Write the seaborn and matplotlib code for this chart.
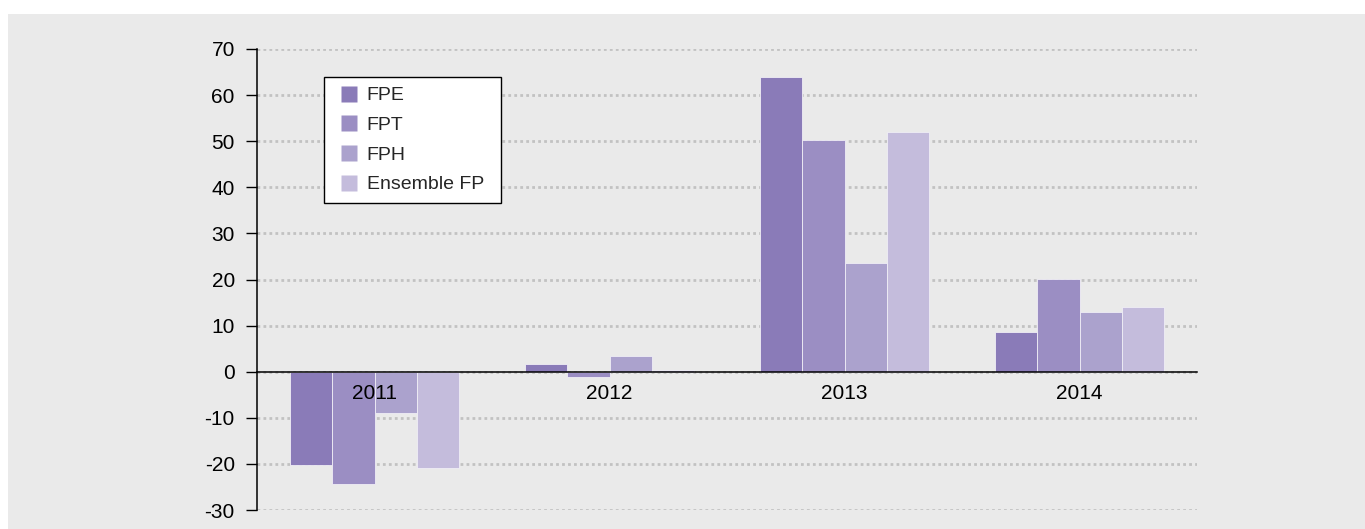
import matplotlib
matplotlib.use('Agg')
import matplotlib.pyplot as plt
from matplotlib.patches import Rectangle
from matplotlib.lines import Line2D
import pandas as pd
import seaborn as sns

# data
years = ['2011', '2012', '2013', '2014']
series = ['FPE', 'FPT', 'FPH', 'Ensemble FP']
fpe = [-20.2, 1.7, 63.9, 8.7]
fpt = [-24.4, -1.2, 50.3, 20.1]
fph = [-9.0, 3.5, 23.6, 12.9]
ensemble = [-20.8, 0.4, 52.0, 14.1]
colors = ['#8a7bb8', '#9b8ec3', '#aba2cd', '#c4bcdc']

bg = '#eaeaea'

rows = []
for name, vals in zip(series, [fpe, fpt, fph, ensemble]):
    for y, v in zip(years, vals):
        rows.append({'annee': y, 'serie': name, 'valeur': v})
df = pd.DataFrame(rows)

sns.set_theme(style='white')
plt.rcParams['font.family'] = ['Liberation Sans', 'DejaVu Sans']
plt.rcParams['axes.unicode_minus'] = False

fig = plt.figure(figsize=(13.65, 5.29), dpi=100)
fig.patch.set_facecolor('white')
# grey panel behind the chart
fig.patches.append(Rectangle((8 / 1365, 0), 1 - 8 / 1365, 1 - 14 / 529,
                             transform=fig.transFigure, facecolor=bg,
                             edgecolor='none', zorder=-10))

ax = fig.add_axes([257 / 1365, 19 / 529, 940 / 1365, 461 / 529])
ax.set_facecolor(bg)

sns.barplot(data=df, x='annee', y='valeur', hue='serie', hue_order=series,
            palette=colors, width=0.723, saturation=1, ax=ax,
            edgecolor='#f0eef6', linewidth=0.6, zorder=3)

ax.set_ylim(-30, 70)
ax.set_xlim(-0.5, 3.5)
ax.set_yticks(range(-30, 71, 10))
ax.yaxis.grid(True, color='#c2c2c2', linestyle=(0, (1, 1.15)), linewidth=2)
# grid under the bars, year labels over them
ax.yaxis.set_zorder(0.5)
ax.xaxis.set_zorder(4)

for s in ['top', 'right']:
    ax.spines[s].set_visible(False)
ax.spines['left'].set_color('black')
ax.spines['left'].set_linewidth(1.1)
ax.spines['bottom'].set_position(('data', 0))
ax.spines['bottom'].set_color('black')
ax.spines['bottom'].set_linewidth(1.1)
ax.spines['bottom'].set_zorder(5)

# boundary ticks, year labels on minor ticks
ax.set_xticks([-0.5, 0.5, 1.5, 2.5, 3.5])
ax.set_xticklabels([])
ax.set_xticks([0, 1, 2, 3], minor=True)
ax.set_xticklabels(years, minor=True)
ax.tick_params(axis='x', which='major', direction='out', length=6, width=1, color='black')
ax.tick_params(axis='x', which='minor', length=0, pad=9, labelsize=15, labelcolor='black')
ax.tick_params(axis='y', direction='out', length=8, width=1, color='black',
               labelsize=15, labelcolor='black', pad=8, left=True)
ax.set_xlabel('')
ax.set_ylabel('')

handles = [Line2D([], [], linestyle='none', marker='s', markersize=11,
                  markerfacecolor=c, markeredgecolor='none') for c in colors]
leg = ax.legend(handles, series, loc='upper left', mode='expand',
                bbox_to_anchor=(0.0713, 0.5, 0.1883, 0.439), borderaxespad=0,
                fontsize=14, frameon=True, fancybox=False, edgecolor='black',
                facecolor='white', framealpha=1, handlelength=1.6,
                handletextpad=0.1, labelspacing=0.62, borderpad=0.5)
leg.get_frame().set_linewidth(1)

fig.savefig('out.png', dpi=100, facecolor=fig.get_facecolor())
